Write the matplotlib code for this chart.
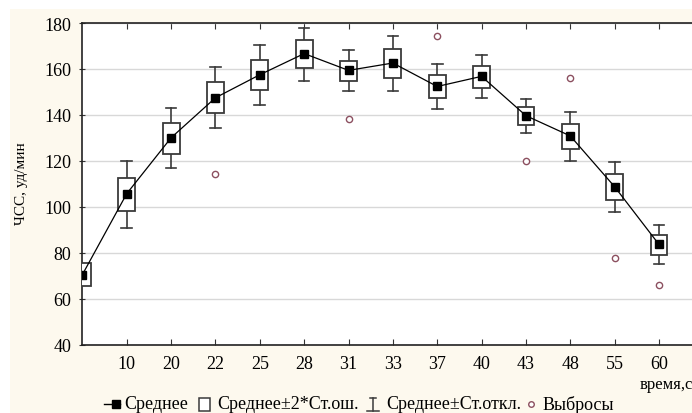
import matplotlib.pyplot as plt
from matplotlib.patches import Rectangle
from matplotlib.lines import Line2D

plt.rcParams['font.family'] = ['Liberation Serif', 'DejaVu Serif']

labels = ['', '10', '20', '22', '25', '28', '31', '33', '37', '40', '43', '48', '55', '60']
means = [70.6, 105.8, 130.1, 147.5, 157.5, 166.7, 159.4, 162.6, 152.4, 156.8, 139.7, 130.9, 108.8, 83.7]
# mean +/- 2*SE (box)
box_lo = [65.6, 98.1, 123.2, 140.9, 150.9, 160.4, 154.6, 156.1, 147.4, 151.9, 135.8, 125.2, 103.0, 79.0]
box_hi = [75.6, 112.7, 136.5, 154.5, 163.9, 172.4, 163.5, 168.5, 157.4, 161.1, 143.3, 136.1, 114.3, 87.7]
# mean +/- SD (whiskers); first one hidden behind the axis in the original
wh_lo = [None, 90.9, 116.8, 134.3, 144.5, 154.9, 150.4, 150.4, 142.7, 147.4, 132.0, 120.1, 97.8, 75.2]
wh_hi = [None, 119.8, 143.0, 161.0, 170.4, 177.7, 168.1, 174.2, 162.0, 165.9, 146.8, 141.4, 119.7, 92.0]
# outliers (category index, value)
out_x = [3, 6, 8, 10, 11, 12, 13]
out_y = [114.2, 138.1, 174.3, 120.1, 155.9, 77.8, 66.1]

W, H = 692, 414
fig = plt.figure(figsize=(6.92, 4.14), dpi=100)
fig.patch.set_facecolor('white')
fig.patches.append(Rectangle((10 / W, 0), 1, 1 - 10 / H, transform=fig.transFigure,
                             facecolor='#fdf9ee', edgecolor='none', zorder=-1))

ax = fig.add_axes([81.5 / W, 1 - 346 / H, 1 - 81.5 / W + 0.01, (346 - 24) / H])
ax.set_facecolor('white')

edge = '#3a3a3a'
x = list(range(len(labels)))
hw = 0.19
for i in x:
    if wh_lo[i] is not None:
        ax.plot([i, i], [wh_lo[i], box_lo[i]], color=edge, lw=1.2, zorder=2)
        ax.plot([i, i], [box_hi[i], wh_hi[i]], color=edge, lw=1.2, zorder=2)
        ax.plot([i - 0.12, i + 0.12], [wh_lo[i], wh_lo[i]], color=edge, lw=1.2, zorder=2)
        ax.plot([i - 0.12, i + 0.12], [wh_hi[i], wh_hi[i]], color=edge, lw=1.2, zorder=2)
    ax.add_patch(Rectangle((i - hw, box_lo[i]), 2 * hw, box_hi[i] - box_lo[i],
                           facecolor='white', edgecolor=edge, lw=1.3, zorder=3))

ax.plot(x, means, color='black', lw=0.9, marker='s', markersize=6, zorder=4)
ax.plot(out_x, out_y, linestyle='none', marker='o', markersize=4.5,
        markerfacecolor='white', markeredgecolor='#8c5060', markeredgewidth=1, zorder=4)

ax.set_xlim(-0.02, 13.9)
ax.set_ylim(40, 180)
ax.set_yticks(range(40, 181, 20))
ax.set_xticks(x[1:])
ax.set_xticklabels(labels[1:])
ax.yaxis.grid(True, color='#d8d8d8', lw=1)
ax.set_axisbelow(True)
ax.tick_params(axis='x', direction='in', length=4, top=True, labelsize=13, pad=7, color='#333333')
ax.tick_params(axis='y', direction='inout', length=5, labelsize=13, pad=5, color='#333333')
for s in ['left', 'bottom', 'top']:
    ax.spines[s].set_color('#222222')
    ax.spines[s].set_linewidth(1.2)
ax.spines['right'].set_visible(False)

fig.text(22 / W, 1 - 184 / H, 'ЧСС, уд/мин', rotation=90, ha='center', va='center', fontsize=11)
fig.text(640 / W, 1 - 385 / H, 'время,с', ha='left', va='center', fontsize=12)

# legend row
ly = 1 - 405 / H
fig.lines.append(Line2D([104 / W, 115.5 / W, 120 / W], [ly, ly, ly], color='black', lw=1,
                        marker='s', markersize=6, markevery=[1], transform=fig.transFigure))
fig.text(124 / W, ly, 'Среднее', ha='left', va='center', fontsize=13)
fig.patches.append(Rectangle((199 / W, 1 - 412 / H), 11 / W, 13 / H, transform=fig.transFigure,
                             facecolor='white', edgecolor=edge, lw=1.1))
fig.text(217 / W, ly, 'Среднее±2*Ст.ош.', ha='left', va='center', fontsize=13)
fig.lines.append(Line2D([373 / W, 373 / W], [1 - 399 / H, 1 - 412 / H], color=edge, lw=1.1,
                        transform=fig.transFigure))
fig.lines.append(Line2D([370 / W, 376 / W], [1 - 399 / H, 1 - 399 / H], color=edge, lw=1.1,
                        transform=fig.transFigure))
fig.lines.append(Line2D([367 / W, 379 / W], [1 - 412 / H, 1 - 412 / H], color=edge, lw=1.1,
                        transform=fig.transFigure))
fig.text(386 / W, ly, 'Среднее±Ст.откл.', ha='left', va='center', fontsize=13)
fig.lines.append(Line2D([531 / W], [ly], linestyle='none', marker='o', markersize=4,
                        markerfacecolor='white', markeredgecolor='#8c5060',
                        transform=fig.transFigure))
fig.text(543 / W, ly, 'Выбросы', ha='left', va='center', fontsize=13)

fig.savefig('out.png', dpi=100, facecolor=fig.get_facecolor())
